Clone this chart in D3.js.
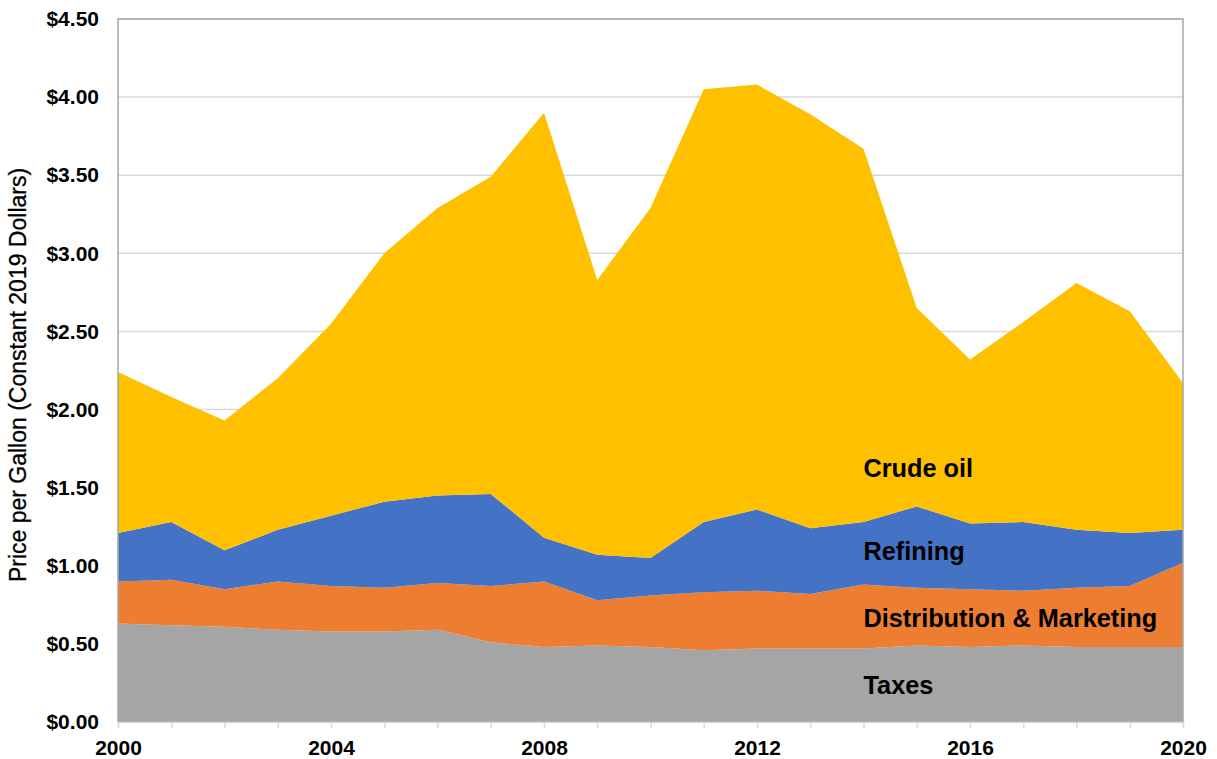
<!DOCTYPE html>
<html>
<head>
<meta charset="utf-8">
<script src="https://cdn.jsdelivr.net/npm/d3@7"></script>
<style>
  html, body { margin: 0; padding: 0; background: #fff; }
  svg { display: block; font-family: "Liberation Sans", Arial, sans-serif; }
</style>
</head>
<body>
<svg id="chart" width="1217" height="759"></svg>
<script>
// Gasoline price components per gallon, constant 2019 dollars
const years = [2000, 2001, 2002, 2003, 2004, 2005, 2006, 2007, 2008, 2009, 2010,
               2011, 2012, 2013, 2014, 2015, 2016, 2017, 2018, 2019, 2020];
const taxes        = [0.63, 0.62, 0.61, 0.59, 0.58, 0.58, 0.59, 0.51, 0.48, 0.49, 0.48,
                      0.46, 0.47, 0.47, 0.47, 0.49, 0.48, 0.49, 0.48, 0.48, 0.48];
const distribution = [0.27, 0.29, 0.24, 0.31, 0.29, 0.28, 0.30, 0.36, 0.42, 0.29, 0.33,
                      0.37, 0.37, 0.35, 0.41, 0.37, 0.37, 0.35, 0.38, 0.39, 0.54];
const refining     = [0.31, 0.37, 0.25, 0.33, 0.45, 0.55, 0.56, 0.59, 0.28, 0.29, 0.24,
                      0.45, 0.52, 0.42, 0.40, 0.52, 0.42, 0.44, 0.37, 0.34, 0.21];
const crudeOil     = [1.03, 0.80, 0.83, 0.97, 1.23, 1.59, 1.84, 2.03, 2.72, 1.76, 2.24,
                      2.77, 2.72, 2.65, 2.39, 1.27, 1.05, 1.28, 1.58, 1.42, 0.94];

const seriesKeys   = ["Taxes", "Distribution & Marketing", "Refining", "Crude oil"];
const seriesValues = [taxes, distribution, refining, crudeOil];
const seriesColors = ["#a5a5a5", "#ed7d31", "#4472c4", "#ffc000"];
// In-chart labels: [text, year where it starts, value at its baseline]
const seriesLabels = [["Crude oil", 2014, 1.57], ["Refining", 2014, 1.036],
                      ["Distribution & Marketing", 2014, 0.605], ["Taxes", 2014, 0.177]];

const yTicks = [0, 0.5, 1, 1.5, 2, 2.5, 3, 3.5, 4, 4.5];
const xTickLabels = [2000, 2004, 2008, 2012, 2016, 2020];
const yTitle = "Price per Gallon (Constant 2019 Dollars)";

const margin = { left: 118, right: 34, top: 19, bottom: 37 };
const W = 1217, H = 759;

const svg = d3.select("#chart");

const x = d3.scaleLinear().domain([2000, 2020]).range([margin.left, W - margin.right]);
const y = d3.scaleLinear().domain([0, 4.5]).range([H - margin.bottom, margin.top]);

const rows = years.map((yr, i) => {
  const r = { year: yr };
  seriesKeys.forEach((k, j) => { r[k] = seriesValues[j][i]; });
  return r;
});
const stacked = d3.stack().keys(seriesKeys)(rows);

// Horizontal gridlines
svg.append("g")
  .selectAll("line")
  .data(yTicks)
  .join("line")
  .attr("x1", x(2000)).attr("x2", x(2020))
  .attr("y1", d => y(d)).attr("y2", d => y(d))
  .attr("stroke", "#d9d9d9").attr("stroke-width", 1.5);

// Stacked areas
const area = d3.area()
  .x(d => x(d.data.year))
  .y0(d => y(d[0]))
  .y1(d => y(d[1]));

svg.append("g")
  .selectAll("path")
  .data(stacked)
  .join("path")
  .attr("d", area)
  .attr("fill", (d, i) => seriesColors[i]);

// Plot frame: top, left and right edges
svg.append("path")
  .attr("d", `M${x(2000)},${y(0)}V${y(4.5)}H${x(2020)}V${y(0)}`)
  .attr("fill", "none").attr("stroke", "#a6a6a6").attr("stroke-width", 1.5);

// X axis
const xAxis = d3.axisBottom(x)
  .tickValues(years)
  .tickSize(6)
  .tickFormat(d => xTickLabels.includes(d) ? String(d) : "");
const gx = svg.append("g")
  .attr("transform", `translate(0,${y(0)})`)
  .call(xAxis);
gx.select(".domain").attr("stroke", "#d9d9d9").attr("stroke-width", 1.5);
gx.selectAll(".tick line").attr("stroke", "#d9d9d9").attr("stroke-width", 1.5);
gx.selectAll(".tick text")
  .attr("y", 33).attr("dy", 0)
  .attr("fill", "#000")
  .style("font-size", "21px").style("font-weight", "bold")
  .style("font-family", "'Liberation Sans', Arial, sans-serif");

// Y axis labels
const yAxis = d3.axisLeft(y)
  .tickValues(yTicks)
  .tickSize(0)
  .tickPadding(19)
  .tickFormat(d => "$" + d3.format(".2f")(d));
const gy = svg.append("g")
  .attr("transform", `translate(${x(2000)},0)`)
  .call(yAxis);
gy.select(".domain").remove();
gy.selectAll(".tick text")
  .attr("fill", "#000")
  .style("font-size", "21px").style("font-weight", "bold")
  .style("font-family", "'Liberation Sans', Arial, sans-serif");

// Y axis title
svg.append("text")
  .attr("transform", `translate(26,${(168 + 582) / 2}) rotate(-90)`)
  .attr("text-anchor", "middle")
  .attr("fill", "#000")
  .attr("stroke", "#000").attr("stroke-width", 0.3)
  .style("font-size", "23px")
  .text(yTitle);

// Series labels inside the areas
svg.append("g")
  .selectAll("text")
  .data(seriesLabels)
  .join("text")
  .attr("x", d => x(d[1]))
  .attr("y", d => y(d[2]))
  .attr("fill", "#000")
  .style("font-size", "25.3px").style("font-weight", "bold")
  .text(d => d[0]);
</script>
</body>
</html>
